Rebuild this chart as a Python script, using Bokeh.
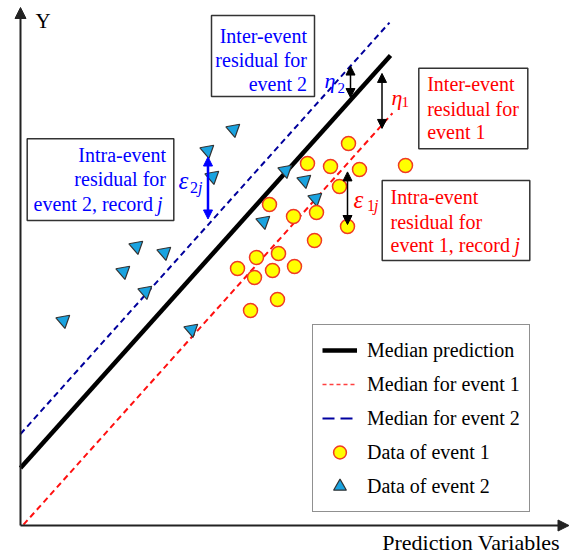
import numpy as np
from bokeh.plotting import figure
from bokeh.models import Range1d, Arrow, NormalHead, Legend, LegendItem
from bokeh.core.properties import value
from bokeh.embed import file_html
from bokeh.resources import INLINE

SERIF = "Liberation Serif"
BLUE_TXT = "#0000FF"
RED_TXT = "#FF0000"

# ---- model (arbitrary units) ----
median_intercept = 5.75
median_slope = 1.115
eta_1 = -6.0   # inter-event residual, event 1
eta_2 = 3.4    # inter-event residual, event 2

median_x = [0.0, 37.0]
event1_line_x = [0.3, 37.2]
event2_line_x = [0.0, 36.9]

# ---- records ----
event1_x = [32.8, 28.7, 31.0, 33.9, 38.5, 31.9, 24.9, 27.3, 29.6, 32.7,
            29.4, 23.6, 25.8, 21.7, 25.2, 27.4, 23.4, 25.7, 23.0]
event1_y = [38.2, 36.2, 35.9, 35.6, 36.0, 33.9, 32.1, 30.9, 31.3, 29.9,
            28.5, 26.8, 27.2, 25.7, 25.5, 25.9, 24.8, 22.6, 21.5]
event2_x = [21.3, 18.7, 19.2, 26.5, 28.4, 29.5, 24.3, 11.6, 14.4, 10.3,
            12.5, 4.3, 17.1]
event2_y = [39.6, 37.5, 34.9, 35.5, 34.5, 32.7, 30.4, 27.9, 27.3, 25.4,
            23.4, 20.5, 19.6]
record_j_event1 = 9
record_j_event2 = 1

# x positions of the inter-event residual arrows
eta2_arrow_x = 33.0
eta1_arrow_x = 36.15

legend_labels = ["Median prediction", "Median for event 1", "Median for event 2",
                 "Data of event 1", "Data of event 2"]


def median(x):
    return median_intercept + median_slope * np.asarray(x, dtype=float)


def event1(x):
    return median(x) + eta_1


def event2(x):
    return median(x) + eta_2


p = figure(width=574, height=557, x_range=Range1d(-2.0, 55.4), y_range=Range1d(-3.2, 52.5),
           output_backend="svg", toolbar_location=None, min_border=0,
           x_axis_type=None, y_axis_type=None, outline_line_color=None,
           background_fill_color="white", border_fill_color="white")
p.grid.visible = False

# ---- axes drawn as arrows ----
axis_col = "#222222"
p.add_layout(Arrow(x_start=0, y_start=0, x_end=0, y_end=51.8, line_color=axis_col, line_width=2,
                   end=NormalHead(size=11, fill_color=axis_col, line_color=axis_col)))
p.add_layout(Arrow(x_start=0, y_start=0, x_end=54.85, y_end=0, line_color=axis_col, line_width=2,
                   end=NormalHead(size=11, fill_color=axis_col, line_color=axis_col)))

# ---- prediction lines ----
r_med = p.line(median_x, median(median_x), line_color="black", line_width=4.5)
p.line(event1_line_x, event1(event1_line_x), line_color="#FF1010", line_width=2, line_dash="6 4")
p.line(event2_line_x, event2(event2_line_x), line_color="#00009C", line_width=2, line_dash="6 4")

# legend samples for the dashed medians
nan2 = np.array([np.nan, np.nan])
r_leg1 = p.line(nan2, nan2, line_color="#FF4040", line_width=1.5, line_dash="4 3")
r_leg2 = p.line(nan2, nan2, line_color="#0000A0", line_width=2, line_dash="12 6")

# ---- records ----
r_ev2 = p.scatter(event2_x, event2_y, marker="triangle", size=14, angle=np.pi + 0.18,
                  fill_color="#1AA3E0", line_color="#333333", line_width=1.2)
r_ev1 = p.scatter(event1_x, event1_y, marker="circle", size=14,
                  fill_color="#FFFF00", line_color="#F03A24", line_width=1.5)

# ---- residual arrows ----
def residual_arrow(x, y0, y1, color, width):
    p.add_layout(Arrow(x_start=x, y_start=y0, x_end=x, y_end=y1, line_color=color, line_width=width,
                       start=NormalHead(size=9, fill_color=color, line_color=color),
                       end=NormalHead(size=9, fill_color=color, line_color=color)))

residual_arrow(eta2_arrow_x, float(median(eta2_arrow_x)) + 0.25, float(event2(eta2_arrow_x)), "black", 1.5)
residual_arrow(eta1_arrow_x, float(median(eta1_arrow_x)) - 0.85, float(event1(eta1_arrow_x)) - 0.35, "black", 1.5)
xj1, yj1 = event1_x[record_j_event1], event1_y[record_j_event1]
residual_arrow(xj1, float(event1(xj1)) - 0.85, yj1 + 0.2, "black", 1.5)
xj2, yj2 = event2_x[record_j_event2], event2_y[record_j_event2]
residual_arrow(xj2 + 0.05, yj2 - 0.65, float(event2(xj2)) + 0.65, "#0000FF", 2.5)

# ---- text boxes ----
p.quad(left=[19.1, 0.67, 39.83, 36.17], right=[29.4, 15.33, 50.73, 50.93],
       top=[51.0, 38.67, 45.73, 34.5], bottom=[42.9, 30.5, 37.67, 26.5],
       fill_color="white", line_color="#333333", line_width=1.5)


def txt(x, y, s, color, size=20, align="left", style="normal"):
    # y is the wanted baseline; lift by the descent that the renderer adds below it
    p.text(x=[x], y=[y + 0.035 * size], text=[s], text_font=value(SERIF),
           text_font_size=f"{size}px", text_color=color, text_align=align,
           text_baseline="alphabetic", text_font_style=style)


# inter-event, event 2
txt(28.65, 48.23, "Inter-event", BLUE_TXT, align="right")
txt(28.65, 45.83, "residual for", BLUE_TXT, align="right")
txt(28.65, 43.43, "event 2", BLUE_TXT, align="right")
# intra-event, event 2
txt(14.55, 36.33, "Intra-event", BLUE_TXT, align="right")
txt(14.55, 34.0, "residual for", BLUE_TXT, align="right")
txt(13.25, 31.5, "event 2, record", BLUE_TXT, align="right")
txt(13.65, 31.5, "j", BLUE_TXT, style="italic")
# inter-event, event 1
txt(40.67, 43.43, "Inter-event", RED_TXT)
txt(40.67, 41.0, "residual for", RED_TXT)
txt(40.67, 38.67, "event 1", RED_TXT)
# intra-event, event 1
txt(37.0, 32.17, "Intra-event", RED_TXT)
txt(37.0, 29.67, "residual for", RED_TXT)
txt(37.0, 27.33, "event 1, record", RED_TXT)
txt(49.4, 27.33, "j", RED_TXT, style="italic")

# residual symbols
txt(30.4, 43.75, "\u03b7", BLUE_TXT, size=22, style="italic")
txt(31.7, 43.25, "2", BLUE_TXT, size=15)
txt(37.1, 42.05, "\u03b7", RED_TXT, size=22, style="italic")
txt(38.1, 41.8, "1", RED_TXT, size=15)
txt(33.3, 31.7, "\u03b5", RED_TXT, size=25, style="italic")
txt(34.65, 31.4, "1", RED_TXT, size=16)
txt(35.35, 31.4, "j", RED_TXT, size=16, style="italic")
txt(15.8, 33.6, "\u03b5", BLUE_TXT, size=25, style="italic")
txt(16.95, 33.2, "2", BLUE_TXT, size=16)
txt(17.75, 33.2, "j", BLUE_TXT, size=16, style="italic")

# axis titles
txt(1.5, 49.67, "Y", "black", size=21)
txt(36.17, -2.5, "Prediction Variables", "black", size=22)

# ---- legend ----
legend = Legend(items=[LegendItem(label=legend_labels[0], renderers=[r_med]),
                       LegendItem(label=legend_labels[1], renderers=[r_leg1]),
                       LegendItem(label=legend_labels[2], renderers=[r_leg2]),
                       LegendItem(label=legend_labels[3], renderers=[r_ev1]),
                       LegendItem(label=legend_labels[4], renderers=[r_ev2])],
                location=(312, 45), margin=0, padding=9, spacing=2,
                glyph_width=35, glyph_height=32, label_height=32, label_standoff=10,
                label_text_font=SERIF, label_text_font_size="20px", label_text_color="black",
                border_line_color="#222222", border_line_width=1.5,
                background_fill_color="white", background_fill_alpha=1.0)
p.add_layout(legend)

open("out.html", "w").write(file_html(p, INLINE))
